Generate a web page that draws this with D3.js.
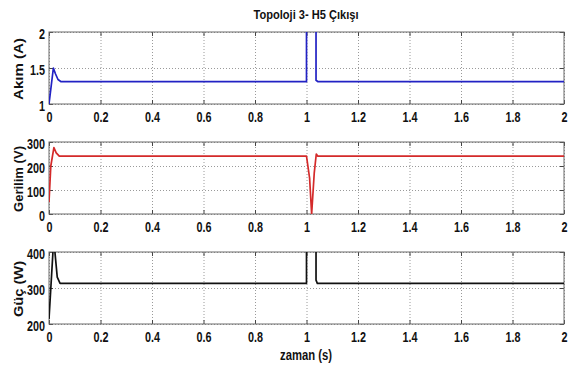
<!DOCTYPE html>
<html>
<head>
<meta charset="utf-8">
<script src="https://cdn.jsdelivr.net/npm/d3@7"></script>
<style>
  body { margin: 0; background: #fff; }
  text { font-family: "Liberation Sans", Arial, sans-serif; fill: #111; }
  .tick text { font-size: 15px; font-weight: bold; }
  .grid line { stroke: #9a9a9a; stroke-dasharray: 1,2; }
  .grid path { display: none; }
  .frame { fill: none; stroke: #6a6a6a; }
  .trace { fill: none; stroke-width: 1.7; stroke-linejoin: round; }
</style>
</head>
<body>
<div id="chart"></div>
<script>
// time ticks shared by the three panels
var xTicks = [0, 0.2, 0.4, 0.6, 0.8, 1, 1.2, 1.4, 1.6, 1.8, 2];

// Akım (A)
var akimT = [0, 0.017, 0.025, 0.035, 0.047, 1.0, 1.0, 1.037, 1.037, 1.045, 2];
var akimV = [1.0, 1.5, 1.42, 1.34, 1.31, 1.31, 2.6, 2.6, 1.33, 1.31, 1.31];

// Gerilim (V)
var gerT = [0, 0.007, 0.019, 0.028, 0.04, 1.0, 1.012, 1.02, 1.03, 1.038, 1.044, 2];
var gerV = [49, 200, 277, 255, 241, 241, 150, 0, 170, 250, 241, 241];

// Güç (W)
var gucT = [0, 0.017, 0.023, 0.032, 0.043, 1.0, 1.0, 1.037, 1.037, 1.042, 2];
var gucV = [214, 420, 400, 330, 313, 313, 460, 460, 322, 313, 313];

var panels = [
  {label: "Akım (A)", t: akimT, v: akimV, domain: [1, 2], ticks: [1, 1.5, 2], color: "#2222c4", len: 62},
  {label: "Gerilim (V)", t: gerT, v: gerV, domain: [0, 300], ticks: [0, 100, 200, 300], color: "#d42a2a", len: 66},
  {label: "Güç (W)", t: gucT, v: gucV, domain: [200, 400], ticks: [200, 300, 400], color: "#111", len: 56}
];

var width = 572, height = 369;
var left = 49, right = 564, ph = 72;
var tops = [32, 142, 252];
var squeeze = 0.72; // narrow tick font
var fmt = d3.format("");

var svg = d3.select("#chart").append("svg")
    .attr("width", width)
    .attr("height", height);

var x = d3.scaleLinear().domain([0, 2]).range([left, right]);

svg.append("text")
    .attr("x", 306)
    .attr("y", 19)
    .attr("text-anchor", "middle")
    .attr("textLength", 105)
    .attr("lengthAdjust", "spacingAndGlyphs")
    .style("font-size", "12px")
    .style("font-weight", "bold")
    .text("Topoloji 3- H5 Çıkışı");

panels.forEach(function(p, i) {
  var top = tops[i];
  var y = d3.scaleLinear().domain(p.domain).range([top + ph, top]);

  svg.append("defs").append("clipPath")
      .attr("id", "clip" + i)
    .append("rect")
      .attr("x", left)
      .attr("y", top)
      .attr("width", right - left)
      .attr("height", ph);

  // dotted grid
  svg.append("g")
      .attr("class", "grid")
      .attr("transform", "translate(0," + (top + ph) + ")")
      .call(d3.axisBottom(x).tickValues(xTicks).tickSize(-ph).tickFormat(""));
  svg.append("g")
      .attr("class", "grid")
      .attr("transform", "translate(" + left + ",0)")
      .call(d3.axisLeft(y).tickValues(p.ticks).tickSize(-(right - left)).tickFormat(""));

  // axes with inward ticks
  var xa = svg.append("g")
      .attr("transform", "translate(0," + (top + ph) + ")")
      .call(d3.axisBottom(x).tickValues(xTicks).tickSizeInner(-4).tickSizeOuter(0).tickPadding(7).tickFormat(fmt));
  var xt = svg.append("g")
      .attr("transform", "translate(0," + top + ")")
      .call(d3.axisTop(x).tickValues(xTicks).tickSizeInner(-4).tickSizeOuter(0).tickFormat(""));
  var ya = svg.append("g")
      .attr("transform", "translate(" + left + ",0)")
      .call(d3.axisLeft(y).tickValues(p.ticks).tickSizeInner(-4).tickSizeOuter(0).tickPadding(4).tickFormat(fmt));
  var yr = svg.append("g")
      .attr("transform", "translate(" + right + ",0)")
      .call(d3.axisRight(y).tickValues(p.ticks).tickSizeInner(-4).tickSizeOuter(0).tickFormat(""));
  [xa, xt, ya, yr].forEach(function(g) {
    g.select(".domain").remove();
    g.selectAll(".tick line").attr("stroke", "#444");
  });
  xa.selectAll(".tick text").attr("transform", "scale(" + squeeze + ",1)");
  ya.selectAll(".tick text")
      .attr("x", -4 / squeeze)
      .attr("dy", "0.4em")
      .attr("transform", "scale(" + squeeze + ",1)");

  svg.append("rect")
      .attr("class", "frame")
      .attr("x", left)
      .attr("y", top)
      .attr("width", right - left)
      .attr("height", ph);

  var line = d3.line()
      .x(function(d) { return x(d[0]); })
      .y(function(d) { return y(d[1]); });

  svg.append("path")
      .datum(p.t.map(function(t, j) { return [t, p.v[j]]; }))
      .attr("class", "trace")
      .attr("clip-path", "url(#clip" + i + ")")
      .attr("stroke", p.color)
      .attr("d", line);

  svg.append("text")
      .attr("transform", "translate(23," + (top + ph / 2 + 1) + ") rotate(-90)")
      .attr("text-anchor", "middle")
      .attr("textLength", p.len)
      .attr("lengthAdjust", "spacingAndGlyphs")
      .style("font-size", "13px")
      .style("font-weight", "bold")
      .text(p.label);
});

svg.append("text")
    .attr("x", 306)
    .attr("y", 360)
    .attr("text-anchor", "middle")
    .attr("textLength", 52)
    .attr("lengthAdjust", "spacingAndGlyphs")
    .style("font-size", "14px")
    .style("font-weight", "bold")
    .text("zaman (s)");
</script>
</body>
</html>
